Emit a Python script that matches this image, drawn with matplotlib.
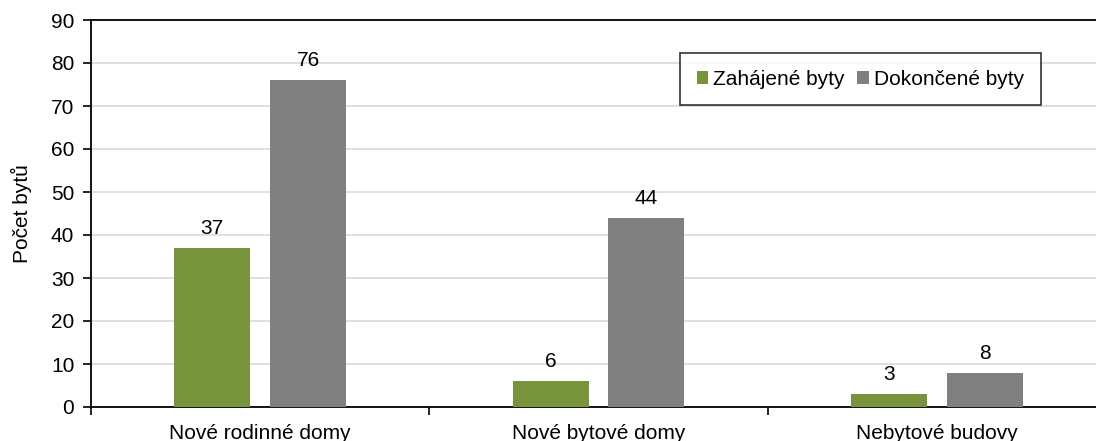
import matplotlib.pyplot as plt
import numpy as np

plt.rcParams['font.family'] = ['Liberation Sans', 'DejaVu Sans']
plt.rcParams['font.size'] = 15

kategorie = ['Nové rodinné domy', 'Nové bytové domy', 'Nebytové budovy']
zahajene = [37, 6, 3]
dokoncene = [76, 44, 8]
nazvy = ['Zahájené byty', 'Dokončené byty']
barvy = ['#77933C', '#808080']

fig = plt.figure(figsize=(10.96, 4.41), dpi=100)
# osa presahuje pravy okraj obrazku (jako v originalu)
ax = fig.add_axes([91/1096, 1 - 407/441, 1015/1096, 387/441])

x = np.arange(len(kategorie))
w = 0.2245
off = 0.1418
b1 = ax.bar(x - off, zahajene, w, color=barvy[0], label=nazvy[0], zorder=3)
b2 = ax.bar(x + off, dokoncene, w, color=barvy[1], label=nazvy[1], zorder=3)

for bars in (b1, b2):
    for r in bars:
        ax.annotate(str(int(r.get_height())), (r.get_x() + r.get_width()/2, r.get_height()),
                    xytext=(0, 7), textcoords='offset points', ha='center', va='bottom')

ax.set_xlim(-0.5, 2.5)
ax.set_ylim(0, 90)
ax.set_yticks(range(0, 91, 10))
ax.set_xticks([-0.5, 0.5, 1.5, 2.5])
ax.set_xticklabels([])
ax.set_xticks(x, minor=True)
ax.set_xticklabels(kategorie, minor=True)
ax.tick_params(axis='x', which='minor', length=0, pad=12)
ax.tick_params(axis='x', which='major', direction='out', length=6, width=1.2)
ax.tick_params(axis='y', direction='out', length=6, width=1.2, pad=6)

ax.grid(axis='y', color='#d9d9d9', linewidth=1.2, zorder=0)
ax.spines['right'].set_visible(False)
for s in ('left', 'bottom', 'top'):
    ax.spines[s].set_linewidth(1.3)

ax.set_ylabel('Počet bytů', labelpad=14)

leg = ax.legend(loc='upper left', bbox_to_anchor=(589/1015, 1 - 33/387), ncol=2,
                frameon=True, fancybox=False, edgecolor='black', handlelength=0.55,
                handleheight=0.55, handletextpad=0.25, columnspacing=0.6,
                borderpad=0.8, borderaxespad=0, fontsize=15)
leg.get_frame().set_linewidth(1.2)

fig.savefig('out.png', dpi=100)
